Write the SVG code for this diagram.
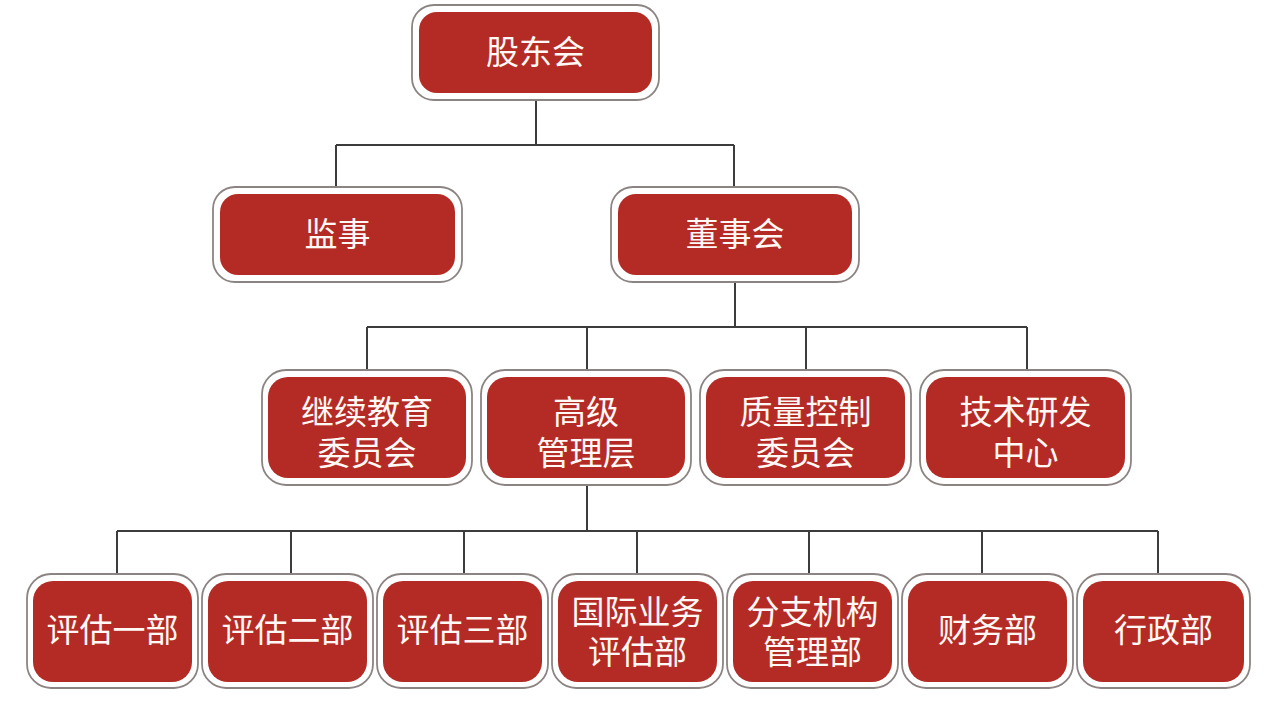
<svg xmlns="http://www.w3.org/2000/svg" width="1279" height="706" viewBox="0 0 1279 706">
<style>
.o{fill:#ffffff;stroke:#8c8482;stroke-width:1.8}
.i{fill:#b42b26}
.t{fill:#fff8f4;font-family:"Noto Sans CJK SC","Noto Sans",sans-serif;font-size:33px;text-anchor:middle}
.c{fill:none;stroke:#3c3c3c;stroke-width:2}
</style>
<rect width="1279" height="706" fill="#ffffff"/>
<g id="connectors">
<path class="c" d="M536 100V145M336 145H734M336 145V187M734 145V187"/>
<path class="c" d="M735 282V327M367 327H1027M367 327V370M587 327V370M806 327V370M1027 327V370"/>
<path class="c" d="M587 485V531M117 531H1158M117 531V574M291 531V574M464 531V574M637 531V574M809 531V574M982 531V574M1158 531V574"/>
</g>
<g id="n1"><rect class="o" x="412" y="5" width="247" height="95" rx="22"/><rect class="i" x="419" y="12" width="233" height="81" rx="18"/><text class="t" x="535.5" y="64">股东会</text></g>
<g id="n2"><rect class="o" x="213" y="187" width="249" height="95" rx="22"/><rect class="i" x="220" y="194" width="235" height="81" rx="18"/><text class="t" x="337.5" y="246">监事</text></g>
<g id="n3"><rect class="o" x="611" y="187" width="248" height="95" rx="22"/><rect class="i" x="618" y="194" width="234" height="81" rx="18"/><text class="t" x="735" y="246">董事会</text></g>
<g id="n4"><rect class="o" x="262" y="370" width="210" height="115" rx="24"/><rect class="i" x="268" y="377" width="198" height="101" rx="20"/><text class="t" x="367" y="424">继续教育<tspan x="367" dy="41">委员会</tspan></text></g>
<g id="n5"><rect class="o" x="481" y="370" width="210" height="115" rx="24"/><rect class="i" x="487" y="377" width="198" height="101" rx="20"/><text class="t" x="586" y="424">高级<tspan x="586" dy="41">管理层</tspan></text></g>
<g id="n6"><rect class="o" x="700" y="370" width="211" height="115" rx="24"/><rect class="i" x="706" y="377" width="199" height="101" rx="20"/><text class="t" x="805.5" y="424">质量控制<tspan x="805.5" dy="41">委员会</tspan></text></g>
<g id="n7"><rect class="o" x="920" y="370" width="211" height="115" rx="24"/><rect class="i" x="926" y="377" width="199" height="101" rx="20"/><text class="t" x="1025.5" y="424">技术研发<tspan x="1025.5" dy="41">中心</tspan></text></g>
<g id="n8"><rect class="o" x="27" y="574" width="171" height="114" rx="24"/><rect class="i" x="33" y="581" width="159" height="101" rx="20"/><text class="t" x="112.5" y="642">评估一部</text></g>
<g id="n9"><rect class="o" x="202" y="574" width="171" height="114" rx="24"/><rect class="i" x="208" y="581" width="159" height="101" rx="20"/><text class="t" x="287.5" y="642">评估二部</text></g>
<g id="n10"><rect class="o" x="377" y="574" width="171" height="114" rx="24"/><rect class="i" x="383" y="581" width="159" height="101" rx="20"/><text class="t" x="462.5" y="642">评估三部</text></g>
<g id="n11"><rect class="o" x="552" y="574" width="171" height="114" rx="24"/><rect class="i" x="558" y="581" width="159" height="101" rx="20"/><text class="t" x="637.5" y="624">国际业务<tspan x="637.5" dy="40">评估部</tspan></text></g>
<g id="n12"><rect class="o" x="727" y="574" width="171" height="114" rx="24"/><rect class="i" x="733" y="581" width="159" height="101" rx="20"/><text class="t" x="812.5" y="624">分支机构<tspan x="812.5" dy="40">管理部</tspan></text></g>
<g id="n13"><rect class="o" x="902" y="574" width="171" height="114" rx="24"/><rect class="i" x="908" y="581" width="159" height="101" rx="20"/><text class="t" x="987.5" y="642">财务部</text></g>
<g id="n14"><rect class="o" x="1077" y="574" width="173" height="114" rx="24"/><rect class="i" x="1083" y="581" width="161" height="101" rx="20"/><text class="t" x="1163.5" y="642">行政部</text></g>
</svg>
